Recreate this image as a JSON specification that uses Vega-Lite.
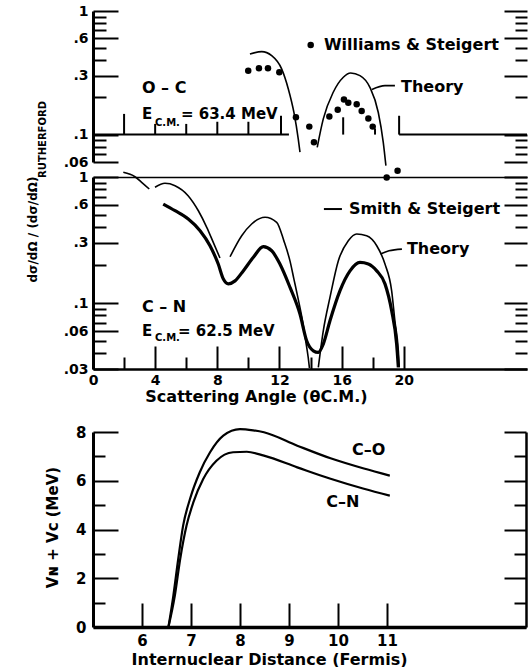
{
  "$schema": "https://vega.github.io/schema/vega-lite/v6.json",
  "padding": {"left": 26, "top": 4, "right": 0, "bottom": 0},
  "background": "white",
  "config": {
    "view": {"stroke": null},
    "font": "DejaVu Sans",
    "axis": {
      "grid": false, "domainColor": "black", "tickColor": "black", "labelColor": "black", "titleColor": "black",
      "labelFont": "DejaVu Sans", "titleFont": "DejaVu Sans", "labelFontWeight": "bold", "titleFontWeight": "bold",
      "labelFontSize": 14, "tickWidth": 2, "labelFlush": false, "labelOverlap": false
    }
  },
  "datasets": {
    "oc_theory": [
      {"t": 10.10, "v": 0.449, "s": 1}, {"t": 10.86, "v": 0.469, "s": 1}, {"t": 11.50, "v": 0.435, "s": 1},
      {"t": 12.14, "v": 0.34, "s": 1}, {"t": 12.57, "v": 0.234, "s": 1}, {"t": 12.93, "v": 0.151, "s": 1},
      {"t": 13.21, "v": 0.092, "s": 1}, {"t": 13.32, "v": 0.072, "s": 1},
      {"t": 14.43, "v": 0.0789, "s": 2}, {"t": 14.82, "v": 0.134, "s": 2}, {"t": 15.46, "v": 0.22, "s": 2},
      {"t": 16.11, "v": 0.291, "s": 2}, {"t": 16.58, "v": 0.315, "s": 2}, {"t": 17.18, "v": 0.30, "s": 2},
      {"t": 17.82, "v": 0.241, "s": 2}, {"t": 18.36, "v": 0.151, "s": 2}, {"t": 18.68, "v": 0.0866, "s": 2},
      {"t": 18.85, "v": 0.056, "s": 2}
    ],
    "oc_data": [
      {"t": 9.99, "v": 0.329}, {"t": 10.68, "v": 0.344}, {"t": 11.26, "v": 0.344}, {"t": 11.99, "v": 0.319},
      {"t": 13.06, "v": 0.138}, {"t": 13.92, "v": 0.116}, {"t": 14.22, "v": 0.0867}, {"t": 15.21, "v": 0.140},
      {"t": 15.75, "v": 0.159}, {"t": 16.15, "v": 0.192}, {"t": 16.43, "v": 0.181}, {"t": 16.97, "v": 0.176},
      {"t": 17.29, "v": 0.155}, {"t": 17.72, "v": 0.135}, {"t": 18.0, "v": 0.116}, {"t": 18.9, "v": 0.045},
      {"t": 19.6, "v": 0.051}
    ],
    "oc_legdot": [{"t": 14.01, "v": 0.531}],
    "oc_base": [{"t0": 0, "t1": 12.61, "v": 0.1}, {"t0": 19.7, "t1": 27.93, "v": 0.1}],
    "oc_ticks": [
      {"t": 2, "v0": 0.1, "v1": 0.147}, {"t": 4, "v0": 0.1, "v1": 0.122}, {"t": 6, "v0": 0.1, "v1": 0.122},
      {"t": 8, "v0": 0.1, "v1": 0.127}, {"t": 10, "v0": 0.1, "v1": 0.127}, {"t": 12.1, "v0": 0.1, "v1": 0.142},
      {"t": 16.1, "v0": 0.1, "v1": 0.138}, {"t": 18.15, "v0": 0.1, "v1": 0.112}, {"t": 19.7, "v0": 0.1, "v1": 0.142}
    ],
    "oc_ptr": [{"t": 17.95, "v": 0.232}, {"t": 18.79, "v": 0.249}, {"t": 19.43, "v": 0.249}],
    "oc_text": [
      {"t": 3.15, "v": 0.238, "label": "O – C"},
      {"t": 14.86, "v": 0.531, "label": "Williams & Steigert"},
      {"t": 19.82, "v": 0.242, "label": "Theory"}
    ],
    "oc_etext": [{"t": 3.15, "v": 0.147, "label": "E"}, {"t": 5.66, "v": 0.147, "label": "= 63.4 MeV"}],
    "oc_sub": [{"t": 3.99, "v": 0.124, "label": "C.M."}],
    "cn_theory": [
      {"t": 1.95, "v": 1.09, "s": "A"}, {"t": 2.70, "v": 1.005, "s": "A"}, {"t": 3.13, "v": 0.908, "s": "A"}, {"t": 3.62, "v": 0.803, "s": "A"},
      {"t": 3.99, "v": 0.829, "s": "B"}, {"t": 4.63, "v": 0.891, "s": "B"}, {"t": 5.28, "v": 0.853, "s": "B"}, {"t": 6.12, "v": 0.711, "s": "B"},
      {"t": 6.78, "v": 0.540, "s": "B"}, {"t": 7.32, "v": 0.399, "s": "B"}, {"t": 7.74, "v": 0.303, "s": "B"}, {"t": 8.17, "v": 0.228, "s": "B"},
      {"t": 8.82, "v": 0.233, "s": "C"}, {"t": 9.57, "v": 0.342, "s": "C"}, {"t": 10.21, "v": 0.424, "s": "C"}, {"t": 11.07, "v": 0.479, "s": "C"},
      {"t": 11.82, "v": 0.437, "s": "C"}, {"t": 12.29, "v": 0.31, "s": "C"}, {"t": 12.68, "v": 0.215, "s": "C"}, {"t": 12.93, "v": 0.155, "s": "C"},
      {"t": 13.21, "v": 0.107, "s": "C"}, {"t": 13.47, "v": 0.074, "s": "C"}, {"t": 13.69, "v": 0.05, "s": "C"}, {"t": 13.85, "v": 0.037, "s": "C"},
      {"t": 13.93, "v": 0.0305, "s": "C"},
      {"t": 14.50, "v": 0.0309, "s": "D"}, {"t": 14.82, "v": 0.0603, "s": "D"}, {"t": 15.25, "v": 0.111, "s": "D"}, {"t": 15.79, "v": 0.217, "s": "D"},
      {"t": 16.43, "v": 0.312, "s": "D"}, {"t": 16.97, "v": 0.353, "s": "D"}, {"t": 17.61, "v": 0.342, "s": "D"}, {"t": 18.26, "v": 0.285, "s": "D"},
      {"t": 18.79, "v": 0.204, "s": "D"}, {"t": 19.22, "v": 0.125, "s": "D"}, {"t": 19.43, "v": 0.072, "s": "D"}, {"t": 19.65, "v": 0.042, "s": "D"},
      {"t": 19.71, "v": 0.031, "s": "D"}
    ],
    "cn_exp": [
      {"t": 4.52, "v": 0.610}, {"t": 5.28, "v": 0.540}, {"t": 6.13, "v": 0.464}, {"t": 6.89, "v": 0.375}, {"t": 7.53, "v": 0.285},
      {"t": 8.06, "v": 0.204}, {"t": 8.39, "v": 0.155}, {"t": 8.71, "v": 0.142}, {"t": 9.14, "v": 0.150}, {"t": 9.67, "v": 0.180},
      {"t": 10.32, "v": 0.231}, {"t": 10.96, "v": 0.280}, {"t": 11.50, "v": 0.260}, {"t": 12.03, "v": 0.204}, {"t": 12.68, "v": 0.133},
      {"t": 13.32, "v": 0.0818}, {"t": 13.75, "v": 0.0502}, {"t": 14.18, "v": 0.0418}, {"t": 14.50, "v": 0.0406}, {"t": 14.82, "v": 0.0473},
      {"t": 15.25, "v": 0.0724}, {"t": 15.89, "v": 0.125}, {"t": 16.54, "v": 0.180}, {"t": 17.18, "v": 0.210}, {"t": 17.72, "v": 0.204},
      {"t": 18.26, "v": 0.180}, {"t": 18.79, "v": 0.142}, {"t": 19.22, "v": 0.0869}, {"t": 19.54, "v": 0.0473}, {"t": 19.65, "v": 0.0309}
    ],
    "cn_ptr": [{"t": 18.5, "v": 0.245}, {"t": 19.05, "v": 0.260}, {"t": 19.88, "v": 0.268}],
    "cn_leg": [{"t0": 14.86, "t1": 16.02, "v": 0.557}],
    "cn_text": [
      {"t": 3.15, "v": 0.093, "label": "C – N"},
      {"t": 16.47, "v": 0.557, "label": "Smith & Steigert"},
      {"t": 20.2, "v": 0.268, "label": "Theory"}
    ],
    "cn_etext": [{"t": 3.15, "v": 0.060, "label": "E"}, {"t": 5.47, "v": 0.060, "label": "= 62.5 MeV"}],
    "cn_sub": [{"t": 3.99, "v": 0.0529, "label": "C.M."}],
    "pot": [
      {"r": 6.54, "V": 0, "pair": "C-O"}, {"r": 6.64, "V": 1.28, "pair": "C-O"}, {"r": 6.74, "V": 2.79, "pair": "C-O"},
      {"r": 6.84, "V": 4.16, "pair": "C-O"}, {"r": 6.98, "V": 5.25, "pair": "C-O"}, {"r": 7.18, "V": 6.35, "pair": "C-O"},
      {"r": 7.39, "V": 7.17, "pair": "C-O"}, {"r": 7.66, "V": 7.85, "pair": "C-O"}, {"r": 8.0, "V": 8.12, "pair": "C-O"},
      {"r": 8.27, "V": 8.07, "pair": "C-O"}, {"r": 8.49, "V": 7.99, "pair": "C-O"}, {"r": 9.17, "V": 7.44, "pair": "C-O"},
      {"r": 9.85, "V": 6.92, "pair": "C-O"}, {"r": 10.53, "V": 6.5, "pair": "C-O"}, {"r": 11.06, "V": 6.21, "pair": "C-O"},
      {"r": 6.54, "V": 0, "pair": "C-N"}, {"r": 6.67, "V": 1.28, "pair": "C-N"}, {"r": 6.78, "V": 2.79, "pair": "C-N"},
      {"r": 6.91, "V": 4.16, "pair": "C-N"}, {"r": 7.05, "V": 5.12, "pair": "C-N"}, {"r": 7.25, "V": 6.07, "pair": "C-N"},
      {"r": 7.52, "V": 6.82, "pair": "C-N"}, {"r": 7.86, "V": 7.17, "pair": "C-N"}, {"r": 8.14, "V": 7.19, "pair": "C-N"},
      {"r": 8.49, "V": 7.03, "pair": "C-N"}, {"r": 9.17, "V": 6.55, "pair": "C-N"}, {"r": 9.85, "V": 6.08, "pair": "C-N"},
      {"r": 10.53, "V": 5.67, "pair": "C-N"}, {"r": 11.06, "V": 5.39, "pair": "C-N"}
    ],
    "pot_text": [{"r": 10.29, "V": 7.26, "label": "C–O", "pair": "C-O"}, {"r": 9.76, "V": 5.13, "label": "C–N", "pair": "C-N"}]
  },
  "spacing": 15,
  "bounds": "flush",
  "vconcat": [
    {
      "width": 434, "height": 151,
      "resolve": {"axis": {"y": "independent"}},
      "layer": [
        {
          "data": {"name": "oc_theory"},
          "mark": {"type": "line", "color": "black", "strokeWidth": 1.6, "interpolate": "monotone"},
          "encoding": {
            "x": {"field": "t", "type": "quantitative", "scale": {"domain": [0, 27.93], "nice": false, "zero": false},
                  "axis": {"orient": "top", "ticks": false, "labels": false, "title": null, "domainWidth": 3}},
            "y": {"field": "v", "type": "quantitative", "scale": {"type": "log", "domain": [0.06, 1], "nice": false},
                  "axis": {"orient": "left", "values": [1, 0.6, 0.3, 0.1, 0.06],
                           "labelExpr": "datum.value == 1 ? '1' : replace(toString(datum.value), '0.', '.')",
                           "tickSize": -25, "labelPadding": 30, "domainWidth": 3,
                           "title": "RUTHERFORD", "titleFontSize": 10, "titleX": -51, "titleY": 128, "titleAlign": "center", "titleBaseline": "middle"}},
            "detail": {"field": "s"}
          }
        },
        {
          "data": {"name": "oc_data"},
          "mark": {"type": "circle", "color": "black", "size": 42, "opacity": 1},
          "encoding": {
            "x": {"field": "t", "type": "quantitative", "scale": {"domain": [0, 27.93], "nice": false, "zero": false}, "axis": null},
            "y": {"field": "v", "type": "quantitative", "scale": {"type": "log", "domain": [0.06, 1], "nice": false},
                  "axis": {"orient": "right", "values": [1, 0.6, 0.3, 0.1, 0.06], "tickSize": -23,
                           "labels": false, "title": null, "domain": false}}
          }
        },
        {
          "data": {"name": "oc_legdot"},
          "mark": {"type": "circle", "color": "black", "size": 42, "opacity": 1},
          "encoding": {
            "x": {"field": "t", "type": "quantitative", "scale": {"domain": [0, 27.93], "nice": false, "zero": false}, "axis": null},
            "y": {"field": "v", "type": "quantitative", "scale": {"type": "log", "domain": [0.06, 1], "nice": false},
                  "axis": {"orient": "left", "values": [0.9, 0.8, 0.7, 0.5, 0.4, 0.2, 0.09, 0.08, 0.07], "tickSize": -13,
                           "labels": false, "title": null, "domain": false}}
          }
        },
        {
          "data": {"name": "oc_base"},
          "mark": {"type": "rule", "color": "black", "strokeWidth": 2},
          "encoding": {
            "x": {"field": "t0", "type": "quantitative", "scale": {"domain": [0, 27.93], "nice": false, "zero": false}, "axis": null},
            "x2": {"field": "t1"},
            "y": {"field": "v", "type": "quantitative", "scale": {"type": "log", "domain": [0.06, 1], "nice": false},
                  "axis": {"orient": "right", "values": [0.9, 0.8, 0.7, 0.5, 0.4, 0.2, 0.09, 0.08, 0.07], "tickSize": -12,
                           "labels": false, "title": null, "domain": false}}
          }
        },
        {
          "data": {"name": "oc_ticks"},
          "mark": {"type": "rule", "color": "black", "strokeWidth": 2},
          "encoding": {
            "x": {"field": "t", "type": "quantitative", "scale": {"domain": [0, 27.93], "nice": false, "zero": false}, "axis": null},
            "y": {"field": "v0", "type": "quantitative", "scale": {"type": "log", "domain": [0.06, 1], "nice": false}, "axis": null},
            "y2": {"field": "v1"}
          }
        },
        {
          "data": {"name": "oc_ptr"},
          "mark": {"type": "line", "color": "black", "strokeWidth": 1.6, "interpolate": "monotone"},
          "encoding": {
            "x": {"field": "t", "type": "quantitative", "scale": {"domain": [0, 27.93], "nice": false, "zero": false}, "axis": null},
            "y": {"field": "v", "type": "quantitative", "scale": {"type": "log", "domain": [0.06, 1], "nice": false}, "axis": null}
          }
        },
        {
          "data": {"name": "oc_text"},
          "mark": {"type": "text", "font": "DejaVu Sans", "fontWeight": "bold", "fontSize": 16, "align": "left", "baseline": "middle", "color": "black"},
          "encoding": {
            "x": {"field": "t", "type": "quantitative", "scale": {"domain": [0, 27.93], "nice": false, "zero": false}, "axis": null},
            "y": {"field": "v", "type": "quantitative", "scale": {"type": "log", "domain": [0.06, 1], "nice": false}, "axis": null},
            "text": {"field": "label"}
          }
        },
        {
          "data": {"name": "oc_etext"},
          "mark": {"type": "text", "font": "DejaVu Sans", "fontWeight": "bold", "fontSize": 15, "align": "left", "baseline": "middle", "color": "black"},
          "encoding": {
            "x": {"field": "t", "type": "quantitative", "scale": {"domain": [0, 27.93], "nice": false, "zero": false}, "axis": null},
            "y": {"field": "v", "type": "quantitative", "scale": {"type": "log", "domain": [0.06, 1], "nice": false}, "axis": null},
            "text": {"field": "label"}
          }
        },
        {
          "data": {"name": "oc_sub"},
          "mark": {"type": "text", "font": "DejaVu Sans", "fontWeight": "bold", "fontSize": 10, "align": "left", "baseline": "middle", "color": "black"},
          "encoding": {
            "x": {"field": "t", "type": "quantitative", "scale": {"domain": [0, 27.93], "nice": false, "zero": false}, "axis": null},
            "y": {"field": "v", "type": "quantitative", "scale": {"type": "log", "domain": [0.06, 1], "nice": false}, "axis": null},
            "text": {"field": "label"}
          }
        }
      ]
    },
    {
      "width": 434, "height": 192,
      "resolve": {"axis": {"x": "independent", "y": "independent"}},
      "layer": [
        {
          "data": {"name": "cn_theory"},
          "mark": {"type": "line", "color": "black", "strokeWidth": 1.6, "interpolate": "monotone"},
          "encoding": {
            "x": {"field": "t", "type": "quantitative", "scale": {"domain": [0, 27.93], "nice": false, "zero": false},
                  "axis": {"orient": "bottom", "values": [0, 4, 8, 12, 16, 20], "labelFontSize": 14, "tickSize": -23, "labelPadding": 27,
                           "domainWidth": 2.5,
                           "title": "Scattering Angle (θC.M.)", "titleFontSize": 16, "titleX": 163, "titleY": 27, "titleAlign": "center", "titleBaseline": "middle"}},
            "y": {"field": "v", "type": "quantitative", "scale": {"type": "log", "domain": [0.03, 1], "nice": false},
                  "axis": {"orient": "left", "values": [1, 0.6, 0.3, 0.1, 0.06, 0.03],
                           "labelExpr": "datum.value == 1 ? '1' : replace(toString(datum.value), '0.', '.')",
                           "tickSize": -25, "labelPadding": 30, "domainWidth": 3,
                           "title": "dσ/dΩ / (dσ/dΩ)", "titleFontSize": 12, "titleX": -61, "titleY": 52, "titleAlign": "center", "titleBaseline": "middle"}},
            "detail": {"field": "s"}
          }
        },
        {
          "data": {"name": "cn_exp"},
          "mark": {"type": "line", "color": "black", "strokeWidth": 3.2, "interpolate": "monotone"},
          "encoding": {
            "x": {"field": "t", "type": "quantitative", "scale": {"domain": [0, 27.93], "nice": false, "zero": false},
                  "axis": {"orient": "top", "ticks": false, "labels": false, "title": null, "domainWidth": 1.5}},
            "y": {"field": "v", "type": "quantitative", "scale": {"type": "log", "domain": [0.03, 1], "nice": false},
                  "axis": {"orient": "right", "values": [1, 0.6, 0.3, 0.1, 0.06, 0.03], "tickSize": -23,
                           "labels": false, "title": null, "domain": false}}
          }
        },
        {
          "data": {"name": "cn_ptr"},
          "mark": {"type": "line", "color": "black", "strokeWidth": 1.6, "interpolate": "monotone"},
          "encoding": {
            "x": {"field": "t", "type": "quantitative", "scale": {"domain": [0, 27.93], "nice": false, "zero": false},
                  "axis": {"orient": "bottom", "values": [2, 6, 10, 14, 18], "tickSize": -12, "labels": false, "title": null, "domain": false}},
            "y": {"field": "v", "type": "quantitative", "scale": {"type": "log", "domain": [0.03, 1], "nice": false},
                  "axis": {"orient": "left", "values": [0.9, 0.8, 0.7, 0.5, 0.4, 0.2, 0.09, 0.08, 0.07, 0.05, 0.04], "tickSize": -13,
                           "labels": false, "title": null, "domain": false}}
          }
        },
        {
          "data": {"name": "cn_leg"},
          "mark": {"type": "rule", "color": "black", "strokeWidth": 2},
          "encoding": {
            "x": {"field": "t0", "type": "quantitative", "scale": {"domain": [0, 27.93], "nice": false, "zero": false}, "axis": null},
            "x2": {"field": "t1"},
            "y": {"field": "v", "type": "quantitative", "scale": {"type": "log", "domain": [0.03, 1], "nice": false},
                  "axis": {"orient": "right", "values": [0.9, 0.8, 0.7, 0.5, 0.4, 0.2, 0.09, 0.08, 0.07, 0.05, 0.04], "tickSize": -12,
                           "labels": false, "title": null, "domain": false}}
          }
        },
        {
          "data": {"name": "cn_text"},
          "mark": {"type": "text", "font": "DejaVu Sans", "fontWeight": "bold", "fontSize": 16, "align": "left", "baseline": "middle", "color": "black"},
          "encoding": {
            "x": {"field": "t", "type": "quantitative", "scale": {"domain": [0, 27.93], "nice": false, "zero": false}, "axis": null},
            "y": {"field": "v", "type": "quantitative", "scale": {"type": "log", "domain": [0.03, 1], "nice": false}, "axis": null},
            "text": {"field": "label"}
          }
        },
        {
          "data": {"name": "cn_etext"},
          "mark": {"type": "text", "font": "DejaVu Sans", "fontWeight": "bold", "fontSize": 15, "align": "left", "baseline": "middle", "color": "black"},
          "encoding": {
            "x": {"field": "t", "type": "quantitative", "scale": {"domain": [0, 27.93], "nice": false, "zero": false}, "axis": null},
            "y": {"field": "v", "type": "quantitative", "scale": {"type": "log", "domain": [0.03, 1], "nice": false}, "axis": null},
            "text": {"field": "label"}
          }
        },
        {
          "data": {"name": "cn_sub"},
          "mark": {"type": "text", "font": "DejaVu Sans", "fontWeight": "bold", "fontSize": 10, "align": "left", "baseline": "middle", "color": "black"},
          "encoding": {
            "x": {"field": "t", "type": "quantitative", "scale": {"domain": [0, 27.93], "nice": false, "zero": false}, "axis": null},
            "y": {"field": "v", "type": "quantitative", "scale": {"type": "log", "domain": [0.03, 1], "nice": false}, "axis": null},
            "text": {"field": "label"}
          }
        }
      ]
    },
    {
      "width": 434, "height": 33,
      "data": {"values": []},
      "mark": {"type": "point", "opacity": 0}
    },
    {
      "width": 433, "height": 195,
      "resolve": {"axis": {"x": "independent", "y": "independent"}},
      "layer": [
        {
          "data": {"name": "pot"},
          "transform": [{"filter": "datum.pair == 'C-O'"}],
          "mark": {"type": "line", "color": "black", "strokeWidth": 2.2, "interpolate": "monotone"},
          "encoding": {
            "x": {"field": "r", "type": "quantitative", "scale": {"domain": [5, 13.84], "nice": false, "zero": false},
                  "axis": {"orient": "bottom", "values": [6, 7, 8, 9, 10, 11], "labelFontSize": 15, "tickSize": -24, "labelPadding": 30, "domainWidth": 3.5,
                           "title": "Internuclear Distance (Fermis)", "titleFontSize": 16, "titleX": 176, "titleY": 32, "titleAlign": "center", "titleBaseline": "middle"}},
            "y": {"field": "V", "type": "quantitative", "scale": {"domain": [0, 8], "nice": false},
                  "axis": {"orient": "left", "values": [0, 2, 4, 6, 8], "labelFontSize": 15, "tickSize": -25, "labelPadding": 32, "domainWidth": 3,
                           "title": "Vɴ + Vᴄ (MeV)", "titleFontSize": 15, "titleX": -41, "titleY": 95, "titleAlign": "center", "titleBaseline": "middle"}}
          }
        },
        {
          "data": {"name": "pot"},
          "transform": [{"filter": "datum.pair == 'C-N'"}],
          "mark": {"type": "line", "color": "black", "strokeWidth": 2.2, "interpolate": "monotone"},
          "encoding": {
            "x": {"field": "r", "type": "quantitative", "scale": {"domain": [5, 13.84], "nice": false, "zero": false}, "axis": null},
            "y": {"field": "V", "type": "quantitative", "scale": {"domain": [0, 8], "nice": false},
                  "axis": {"orient": "left", "values": [1, 3, 5, 7], "tickSize": -12, "labels": false, "title": null, "domain": false}}
          }
        },
        {
          "data": {"name": "pot_text"},
          "transform": [{"filter": "datum.pair == 'C-O'"}],
          "mark": {"type": "text", "font": "DejaVu Sans", "fontWeight": "bold", "fontSize": 16, "align": "left", "baseline": "middle", "color": "black"},
          "encoding": {
            "x": {"field": "r", "type": "quantitative", "scale": {"domain": [5, 13.84], "nice": false, "zero": false}, "axis": null},
            "y": {"field": "V", "type": "quantitative", "scale": {"domain": [0, 8], "nice": false},
                  "axis": {"orient": "right", "values": [0, 2, 4, 6, 8], "tickSize": -22, "labels": false, "title": null, "domainWidth": 2.5}},
            "text": {"field": "label"}
          }
        },
        {
          "data": {"name": "pot_text"},
          "transform": [{"filter": "datum.pair == 'C-N'"}],
          "mark": {"type": "text", "font": "DejaVu Sans", "fontWeight": "bold", "fontSize": 16, "align": "left", "baseline": "middle", "color": "black"},
          "encoding": {
            "x": {"field": "r", "type": "quantitative", "scale": {"domain": [5, 13.84], "nice": false, "zero": false}, "axis": null},
            "y": {"field": "V", "type": "quantitative", "scale": {"domain": [0, 8], "nice": false},
                  "axis": {"orient": "right", "values": [1, 3, 5, 7], "tickSize": -12, "labels": false, "title": null, "domain": false}},
            "text": {"field": "label"}
          }
        }
      ]
    }
  ]
}
